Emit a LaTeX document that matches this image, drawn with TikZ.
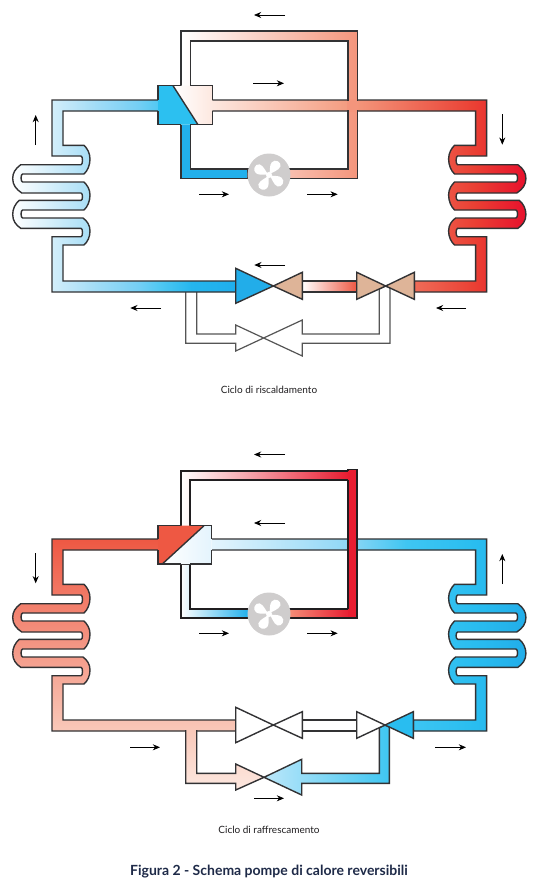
\documentclass[tikz,border=0pt]{standalone}
\usepackage{fontspec}
\setmainfont{Lato}
\usetikzlibrary{arrows.meta}
\definecolor{linegray}{RGB}{50, 50, 52}
\definecolor{linedark}{RGB}{32, 30, 32}
\definecolor{bypassgray}{RGB}{85, 85, 85}
\definecolor{valvetan}{RGB}{222, 180, 152}
\definecolor{valveblue}{RGB}{34, 173, 233}
\definecolor{pipecyan}{RGB}{34, 176, 236}
\definecolor{blockcyan}{RGB}{44, 192, 240}
\definecolor{blockred}{RGB}{238, 88, 67}
\definecolor{vertred}{RGB}{232, 28, 48}
\definecolor{crosssalmon}{RGB}{244, 149, 124}
\definecolor{fangray}{RGB}{207, 205, 205}
\definecolor{titlenavy}{RGB}{30, 42, 72}
\definecolor{icea}{RGB}{168, 222, 246}
\definecolor{iceb}{RGB}{117, 207, 245}
\definecolor{icec}{RGB}{79, 200, 242}
\definecolor{iced}{RGB}{37, 182, 238}
\definecolor{icee}{RGB}{31, 174, 236}
\definecolor{warma}{RGB}{253, 232, 224}
\definecolor{warmb}{RGB}{244, 156, 128}
\definecolor{warmc}{RGB}{234, 63, 51}
\definecolor{warmd}{RGB}{232, 17, 45}
\definecolor{coola}{RGB}{228, 244, 253}
\definecolor{coolb}{RGB}{143, 215, 246}
\definecolor{coolc}{RGB}{63, 198, 242}
\definecolor{coold}{RGB}{41, 189, 240}
\definecolor{coole}{RGB}{34, 173, 233}
\pgfdeclarehorizontalshading{icepipe}{100bp}{color(0bp)=(white); color(25bp)=(white); color(42.3bp)=(icea); color(53bp)=(iceb); color(58bp)=(icec); color(65bp)=(iced); color(75bp)=(icee); color(100bp)=(icee)}
\pgfdeclarehorizontalshading{warmpipe}{100bp}{color(0bp)=(warma); color(25bp)=(warma); color(46.7bp)=(warmb); color(66.9bp)=(warmc); color(75bp)=(warmd); color(100bp)=(warmd)}
\pgfdeclarehorizontalshading{coolpipe}{100bp}{color(0bp)=(coola); color(25bp)=(coola); color(46.7bp)=(coolb); color(56bp)=(coolc); color(66.9bp)=(coold); color(75bp)=(coole); color(100bp)=(coole)}
\tikzset{
	pipeline/.style={draw=linegray, line width=.7pt},
	heavyline/.style={draw=linedark, line width=.85pt},
	bypassline/.style={draw=bypassgray, line width=.6pt},
	flowarrow/.style={black, line width=.4pt, -{Stealth[length=3.6pt,width=3pt]}},
	mirrored/.style={shift={(538.6,0)}, xscale=-1},
	lowercycle/.style={shift={(0,439)}},
	captiontext/.style={font=\fontsize{5}{6}\selectfont, text=linedark},
}
% outline of one condenser with its two pipes, in the coordinates of the left one
\newcommand{\coilpath}[2]{(#1,100) -- (52,100) -- (52,156) -- (81,156)
	.. controls (83,156) and (83,164.7) .. (81,164.7) -- (20.7,164.7)
	.. controls (15,169) and (12.7,173) .. (12.7,178.5)
	.. controls (12.7,185) and (16,189) .. (21.7,193) -- (81,193)
	.. controls (83,193) and (83,200.3) .. (81,200.3) -- (19.3,200.3)
	.. controls (15,204) and (12.7,209) .. (12.7,214.5)
	.. controls (12.7,221) and (16,225) .. (20.7,228.3) -- (81,228.3)
	.. controls (83,228.3) and (83,236.7) .. (81,236.7) -- (52,236.7) -- (52,292)
	-- (#2,292) -- (#2,281) -- (63,281) -- (63,245) -- (84,245)
	.. controls (87.5,242) and (90,237) .. (90,231)
	.. controls (90,225) and (87,221) .. (83,218) -- (22.7,218)
	.. controls (20.5,218) and (20.5,210) .. (22.7,210) -- (84,210)
	.. controls (87.5,207) and (90,201) .. (90,195)
	.. controls (90,189) and (87,185) .. (84,182) -- (22.7,182)
	.. controls (20.5,182) and (20.5,174) .. (22.7,174) -- (84,174)
	.. controls (87.5,171) and (90,165) .. (90,159)
	.. controls (90,153) and (87,148) .. (84,145.3) -- (63,145.3) -- (63,111) -- (#1,111)}
% fan at vertical position #1
\newcommand{\fanwheel}[1]{
	\fill[fangray] (269,#1) circle (21.5);
	\foreach \a in {55,150,240,325} {
		\fill[white, shift={(269,#1)}, rotate=\a] (0,0) .. controls (5,-1.5) and (8,-5.5) .. (12,-5)
			.. controls (17,-4.5) and (18,3) .. (13.5,4.5) .. controls (9,5.5) and (5,1) .. (0,0);
	}
	\fill[white] (269,#1) circle (3);
}

\begin{document}
\begin{tikzpicture}[x=.5pt, y=-.5pt]
	\useasboundingbox (0,0) rectangle (541,894);
	\fill[white] (0,0) rectangle (541,894);

	% Heating cycle: bypass under everything
	\filldraw[bypassline, fill=white] (185.7,292) -- (185.7,343.3) -- (235.7,343.3) -- (235.7,351) -- (302.3,320) -- (302.3,334) -- (379.3,334) -- (379.3,289) -- (385.7,286) -- (390,288) -- (390,343.3) -- (302.3,343.3) -- (302.3,356) -- (235.7,325) -- (235.7,334) -- (196.7,334) -- (196.7,292);

	% Heating cycle: condensers
	\shadedraw[pipeline, shading=icepipe] \coilpath{158}{235.7};
	\shadedraw[pipeline, shading=warmpipe, mirrored] \coilpath{326.6}{124.3};

	% Heating cycle: loop over the crossing
	\shadedraw[pipeline, left color=white, right color=crosssalmon] (181,85.7) -- (181,31) -- (357.3,31) -- (357.3,178.3) -- (248,178.3) -- (248,168.8) -- (348,168.8) -- (348,41) -- (190.3,41) -- (190.3,85.7);
	\fill[crosssalmon] (347.3,100.6) rectangle (358,110.4);
	\fill[crosssalmon] (348.7,99) rectangle (356.6,112);
	\filldraw[pipeline, fill=pipecyan] (181,124.7) -- (181,178.3) -- (248,178.3) -- (248,168.8) -- (190.3,168.8) -- (190.3,124.7);

	% Heating cycle: reversing block
	\fill[blockcyan] (158,85.7) -- (173,85.7) -- (198,124.7) -- (158,124.7) -- cycle;
	\shade[left color=white, right color=warma] (173,85.7) -- (212.3,85.7) -- (212.3,124.7) -- (198,124.7) -- cycle;
	\draw[pipeline] (158,100) -- (158,85.7) -- (181,85.7);
	\draw[pipeline] (190.3,85.7) -- (212.3,85.7) -- (212.3,100);
	\draw[pipeline] (212.3,111) -- (212.3,124.7) -- (190.3,124.7);
	\draw[pipeline] (181,124.7) -- (158,124.7) -- (158,111);
	\draw[pipeline] (173,85.7) -- (198,124.7);

	% Heating cycle: tube and valves
	\shadedraw[pipeline, left color=white, right color=blockred] (302.3,281) -- (356.7,281) -- (356.7,292) -- (302.3,292) -- cycle;
	\filldraw[pipeline, fill=valveblue] (235.7,268.3) -- (273.3,286) -- (235.7,303.3) -- cycle;
	\filldraw[pipeline, fill=valvetan] (302.3,272.3) -- (273.3,286) -- (302.3,299.3) -- cycle;
	\filldraw[pipeline, fill=valvetan] (356.7,272.3) -- (385.7,286) -- (356.7,299.3) -- cycle;
	\filldraw[pipeline, fill=valvetan] (414.3,272.3) -- (385.7,286) -- (414.3,299.3) -- cycle;

	\fanwheel{175}

	% Heating cycle: arrows
	\draw[flowarrow] (285,15) -- (254,15);
	\draw[flowarrow] (253,83.3) -- (284,83.3);
	\draw[flowarrow] (35.7,145) -- (35.7,115);
	\draw[flowarrow] (502.3,114) -- (502.3,144.7);
	\draw[flowarrow] (199,194.3) -- (229,194.3);
	\draw[flowarrow] (307,194.3) -- (337.7,194.3);
	\draw[flowarrow] (285,265) -- (254.3,265);
	\draw[flowarrow] (161,308) -- (130.3,308);
	\draw[flowarrow] (466,308) -- (436,308);

	\node[captiontext] (heating) at (269,390) {Ciclo di riscaldamento};

	% Cooling cycle: condensers
	\shadedraw[pipeline, lowercycle, top color=blockred, bottom color=warmb!55!white] \coilpath{158}{235.7};
	\shadedraw[pipeline, lowercycle, mirrored, shading=coolpipe] \coilpath{326.6}{125.3};

	% Cooling cycle: loop over the crossing
	\shadedraw[heavyline, left color=white, middle color=crosssalmon, right color=vertred] (181,525.7) -- (181,471) -- (349,471) -- (349,480) -- (190.3,480) -- (190.3,525.7);
	\shadedraw[heavyline, left color=white, middle color=coola, right color=pipecyan] (248,618.3) -- (181,618.3) -- (181,564) -- (190.3,564) -- (190.3,608.7) -- (248,608.7);
	\shadedraw[heavyline, left color=crosssalmon, right color=vertred] (285,618.3) -- (350,618.3) -- (350,608.7) -- (285,608.7);
	\fill[vertred] (348.3,469.5) rectangle (357.3,618.3);
	\draw[heavyline] (348.3,480) -- (348.3,608.7);
	\draw[heavyline] (348.3,471) -- (348.3,469.5) -- (357.3,469.5) -- (357.3,618.3) -- (348.3,618.3);

	% Cooling cycle: reversing block
	\fill[blockred] (158,525.7) -- (204,525.7) -- (162.3,564) -- (158,564) -- cycle;
	\shade[left color=white, right color=coola] (204,525.7) -- (211.7,525.7) -- (211.7,564) -- (162.3,564) -- cycle;
	\draw[pipeline] (158,539) -- (158,525.7) -- (181,525.7);
	\draw[pipeline] (190.3,525.7) -- (211.7,525.7) -- (211.7,539);
	\draw[pipeline] (211.7,550) -- (211.7,564) -- (190.3,564);
	\draw[pipeline] (181,564) -- (158,564) -- (158,550);
	\draw[pipeline] (204,525.7) -- (162.3,564);

	% Cooling cycle: lower branch with check valve
	\shadedraw[pipeline, top color=warmb!55!white, bottom color=warma] (185.7,730) -- (185.7,783.3) -- (235.7,783.3) -- (235.7,790) -- (264,777.3) -- (235.7,764) -- (235.7,773.3) -- (196.7,773.3) -- (196.7,730);
	\shadedraw[pipeline, left color=coolb!60!white, right color=coolc] (385,725) -- (389.3,727) -- (389.3,783.3) -- (301.7,783.3) -- (301.7,795) -- (264,777.3) -- (301.7,759.3) -- (301.7,773.3) -- (379.3,773.3) -- (379.3,727.7) -- cycle;

	% Cooling cycle: tube and valves
	\filldraw[pipeline, fill=white] (302.3,720) -- (356.7,720) -- (356.7,731) -- (302.3,731) -- cycle;
	\filldraw[pipeline, fill=white] (235.7,707.3) -- (273.3,725) -- (235.7,742.7) -- cycle;
	\filldraw[pipeline, fill=white] (302.3,711.7) -- (273.3,725) -- (302.3,738.3) -- cycle;
	\filldraw[pipeline, fill=white] (356.7,711.7) -- (385,725) -- (356.7,738.3) -- cycle;
	\filldraw[pipeline, fill=coold] (413.3,711.7) -- (385,725) -- (413.3,738.3) -- cycle;

	\fanwheel{614}

	% Cooling cycle: arrows
	\draw[flowarrow] (285,454.5) -- (254,454.5);
	\draw[flowarrow] (285,523) -- (254,523);
	\draw[flowarrow] (35.7,553) -- (35.7,583.3);
	\draw[flowarrow] (502.3,584) -- (502.3,554);
	\draw[flowarrow] (199,633.3) -- (229,633.3);
	\draw[flowarrow] (307,633.3) -- (337.7,633.3);
	\draw[flowarrow] (130,747.3) -- (160,747.3);
	\draw[flowarrow] (254,798.3) -- (284,798.3);
	\draw[flowarrow] (435,747.3) -- (466,747.3);

	\node[captiontext] (cooling) at (269,830) {Ciclo di raffrescamento};
	\node[font=\fontsize{7}{8}\selectfont\bfseries, text=titlenavy] (title) at (269,872) {Figura 2 - Schema pompe di calore reversibili};
\end{tikzpicture}
\end{document}
